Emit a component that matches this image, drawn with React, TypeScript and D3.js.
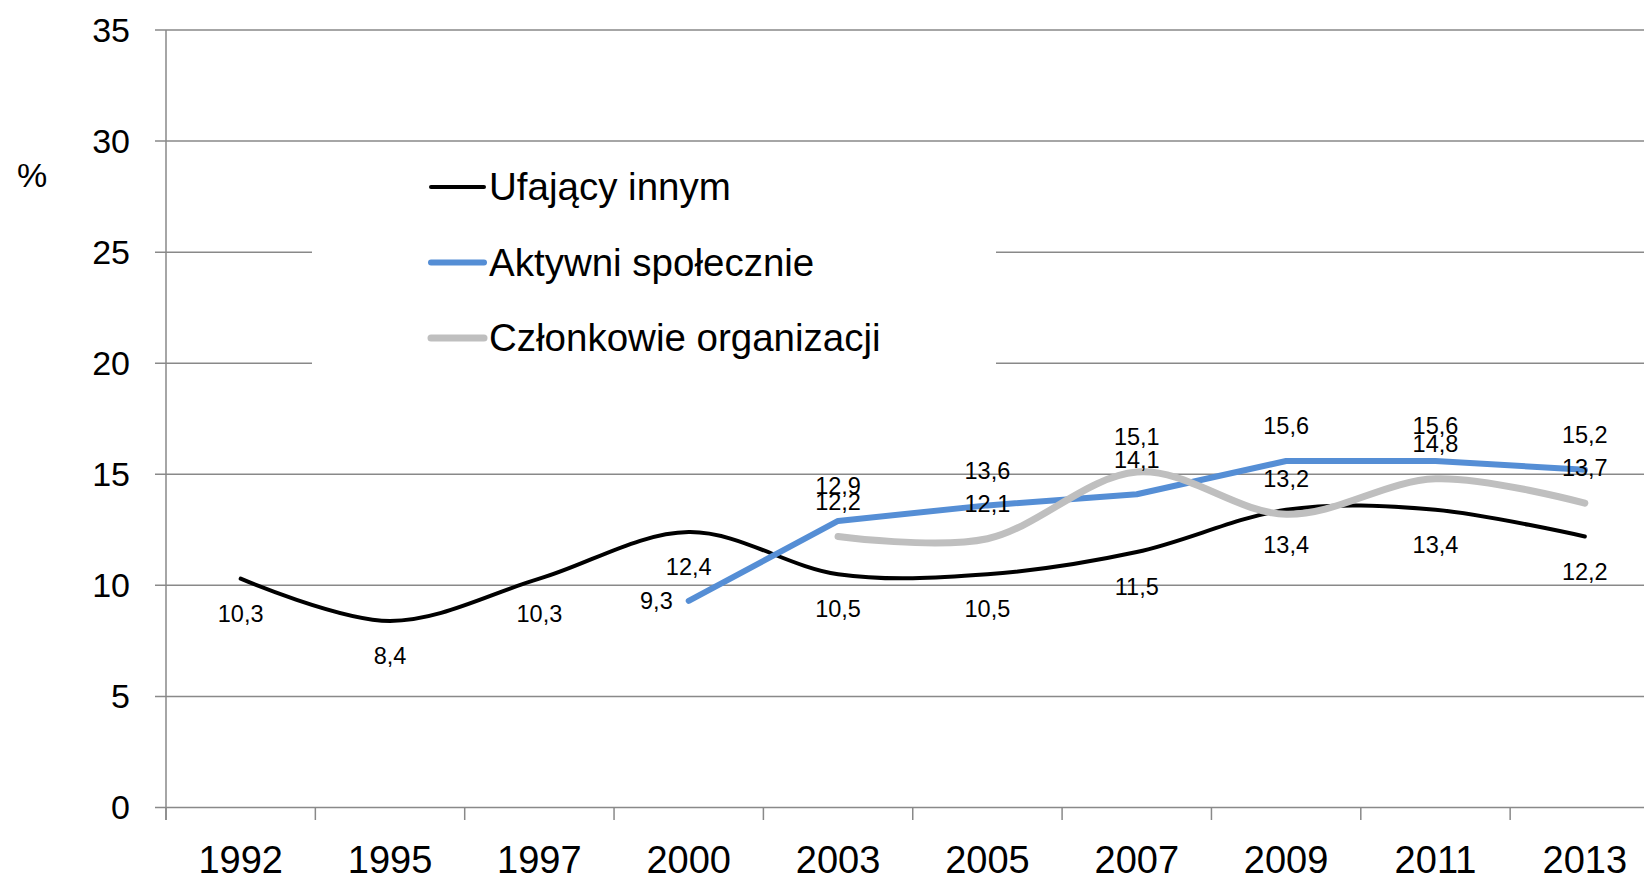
import React, { useEffect, useRef } from 'react';
import * as d3 from 'd3';

const years = ['1992', '1995', '1997', '2000', '2003', '2005', '2007', '2009', '2011', '2013'];
const yTicks = [0, 5, 10, 15, 20, 25, 30, 35];

// null = no survey value for that year
const ufajacy = [10.3, 8.4, 10.3, 12.4, 10.5, 10.5, 11.5, 13.4, 13.4, 12.2];
const aktywni = [null, null, null, 9.3, 12.9, 13.6, 14.1, 15.6, 15.6, 15.2];
const czlonkowie = [null, null, null, null, 12.2, 12.1, 15.1, 13.2, 14.8, 13.7];

const seriesNames = ['Ufający innym', 'Aktywni społecznie', 'Członkowie organizacji'];

const WIDTH = 1644;
const HEIGHT = 880;
const FONT = '"Liberation Sans", Arial, sans-serif';

const App = () => {
  const ref = useRef<SVGSVGElement | null>(null);

  useEffect(() => {
    const svg = d3.select(ref.current);
    svg.selectAll('*').remove();

    const x = d3.scaleBand().domain(years).range([166, 1659.5]);
    const y = d3.scaleLinear().domain([0, 35]).range([807.5, 30]);
    const cx = (i: number) => (x(years[i]) as number) + x.bandwidth() / 2;

    const gridColor = '#898989';

    // horizontal grid lines + y ticks
    svg.append('g')
      .selectAll('line')
      .data(yTicks)
      .join('line')
        .attr('x1', 155)
        .attr('x2', 1659.5)
        .attr('y1', d => y(d))
        .attr('y2', d => y(d))
        .attr('stroke', gridColor)
        .attr('stroke-width', 1.5);

    svg.append('g')
      .selectAll('text')
      .data(yTicks)
      .join('text')
        .attr('x', 130)
        .attr('y', d => y(d))
        .attr('dy', '0.35em')
        .attr('text-anchor', 'end')
        .style('font-family', FONT)
        .style('font-size', '34px')
        .text(d => d);

    // y axis line
    svg.append('line')
      .attr('x1', 166).attr('x2', 166)
      .attr('y1', y(35)).attr('y2', 820)
      .attr('stroke', gridColor)
      .attr('stroke-width', 1.5);

    // x ticks at band edges
    const edges = years.map(d => x(d) as number).concat([x.range()[1]]);
    svg.append('g')
      .selectAll('line')
      .data(edges)
      .join('line')
        .attr('x1', d => d).attr('x2', d => d)
        .attr('y1', y(0)).attr('y2', 820)
        .attr('stroke', gridColor)
        .attr('stroke-width', 1.5);

    svg.append('g')
      .selectAll('text')
      .data(years)
      .join('text')
        .attr('x', d => (x(d) as number) + x.bandwidth() / 2)
        .attr('y', 873)
        .attr('text-anchor', 'middle')
        .style('font-family', FONT)
        .style('font-size', '38px')
        .text(d => d);

    svg.append('text')
      .attr('x', 32)
      .attr('y', 175)
      .attr('dy', '0.35em')
      .attr('text-anchor', 'middle')
      .style('font-family', FONT)
      .style('font-size', '34px')
      .text('%');

    // legend box hides grid behind it
    svg.append('rect')
      .attr('x', 312).attr('y', 150)
      .attr('width', 684).attr('height', 230)
      .attr('fill', '#fff');

    const series = [
      { name: seriesNames[0], values: ufajacy, color: '#000000', width: 4, smooth: true, labelDy: 35 },
      { name: seriesNames[1], values: aktywni, color: '#558ED5', width: 6, smooth: false, labelDy: -35 },
      { name: seriesNames[2], values: czlonkowie, color: '#BFBFBF', width: 7, smooth: true, labelDy: -35 },
    ];

    series.forEach(s => {
      const pts = s.values
        .map((v, i) => ({ v, i }))
        .filter(p => p.v !== null) as { v: number; i: number }[];
      const line = d3.line<{ v: number; i: number }>()
        .x(p => cx(p.i))
        .y(p => y(p.v))
        .curve(s.smooth ? d3.curveCardinal.tension(0) : d3.curveLinear);
      svg.append('path')
        .datum(pts)
        .attr('d', line)
        .attr('fill', 'none')
        .attr('stroke', s.color)
        .attr('stroke-width', s.width)
        .attr('stroke-linecap', 'round')
        .attr('stroke-linejoin', 'round');
    });

    // data labels
    const fmt = (v: number) => v.toFixed(1).replace('.', ',');
    series.forEach((s, si) => {
      s.values.forEach((v, i) => {
        if (v === null) return;
        const first = si === 1 && s.values.findIndex(d => d !== null) === i;
        svg.append('text')
          .attr('x', first ? cx(i) - 16 : cx(i))
          .attr('y', first ? y(v) : y(v) + s.labelDy)
          .attr('dy', '0.35em')
          .attr('text-anchor', first ? 'end' : 'middle')
          .style('font-family', FONT)
          .style('font-size', '23.5px')
          .text(fmt(v));
      });
    });

    // legend entries
    const legend = svg.append('g')
      .selectAll('g')
      .data(series)
      .join('g')
        .attr('transform', (d, i) => `translate(0, ${187 + i * 75.5})`);

    legend.append('line')
      .attr('x1', 431).attr('x2', 484)
      .attr('y1', 0).attr('y2', 0)
      .attr('stroke', d => d.color)
      .attr('stroke-width', d => d.width)
      .attr('stroke-linecap', 'round');

    legend.append('text')
      .attr('x', 489)
      .attr('y', 13)
      .style('font-family', FONT)
      .style('font-size', '38.5px')
      .text(d => d.name);
  }, []);

  return (
    <svg
      ref={ref}
      width={WIDTH}
      height={HEIGHT}
      style={{ position: 'absolute', left: 0, top: 0, background: '#fff' }}
    />
  );
};

export default App;
